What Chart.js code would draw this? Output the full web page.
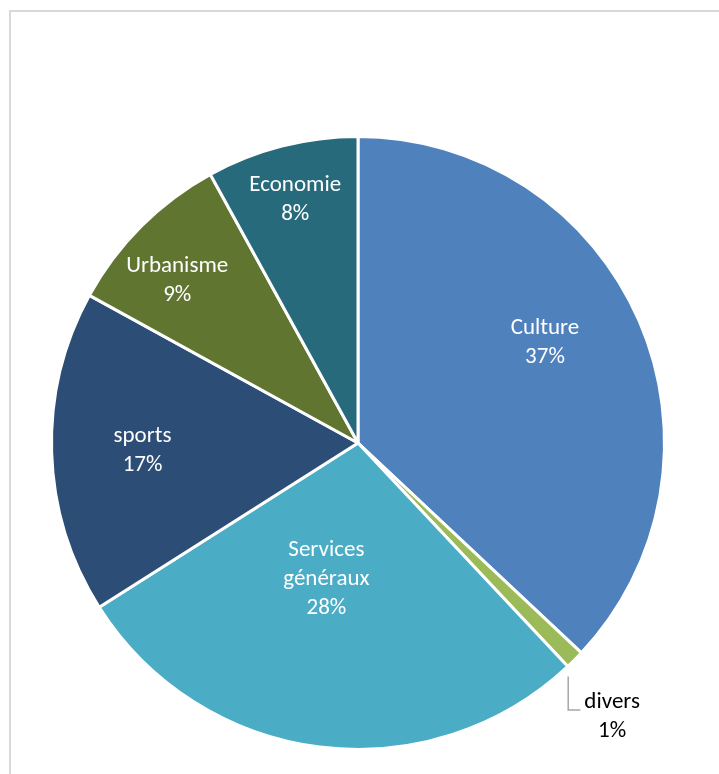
<!DOCTYPE html>
<html>
<head>
<meta charset="utf-8">
<script src="https://cdn.jsdelivr.net/npm/chart.js@4/dist/chart.umd.min.js"></script>
<style>
  html, body { margin: 0; padding: 0; background: #fff; overflow: hidden; }
  #frame { position: absolute; left: 9px; top: 10px; width: 900px; height: 900px; border-left: 2px solid #d9d9d9; border-top: 2px solid #d9d9d9; }
  #wrap { position: absolute; left: 0; top: 0; width: 719px; height: 774px; }
</style>
</head>
<body>
<div id="frame"></div>
<div id="wrap"><canvas id="chart" width="719" height="774"></canvas></div>
<script>
// Répartition par domaine (en %)
const categories = ['Culture', 'divers', 'Services généraux', 'sports', 'Urbanisme', 'Economie'];
const percentages = [37, 1, 28, 17, 9, 8];
const labelLines = [['Culture'], ['divers'], ['Services', 'généraux'], ['sports'], ['Urbanisme'], ['Economie']];

const sliceColors = ['#4F81BD', '#9BBB59', '#4BACC6', '#2C4D75', '#5F7530', '#276A7C'];

// Label placement per slice: radial fraction, angular shift (deg), text colour, outside with leader
const labelStyle = [
  { r: 0.69, shift: -5, color: '#ffffff' },
  { r: 1.21, shift: 2, color: '#000000', outside: true },
  { r: 0.45, shift: 6, color: '#ffffff' },
  { r: 0.70, shift: 0, color: '#ffffff' },
  { r: 0.79, shift: -3, color: '#ffffff' },
  { r: 0.82, shift: 0, color: '#ffffff' }
];

const FONT = '23px Carlito, Calibri, Lato, "Liberation Sans", sans-serif';
const LINE_H = 29;

const sliceLabels = {
  id: 'sliceLabels',
  afterDatasetsDraw(chart) {
    const ctx = chart.ctx;
    const meta = chart.getDatasetMeta(0);
    ctx.save();
    ctx.font = FONT;
    ctx.textAlign = 'center';
    ctx.textBaseline = 'middle';
    meta.data.forEach((arc, i) => {
      const st = labelStyle[i];
      const mid = (arc.startAngle + arc.endAngle) / 2 + st.shift * Math.PI / 180;
      const R = arc.outerRadius + 1.5;
      const cx = arc.x + Math.cos(mid) * R * st.r;
      const cy = arc.y + Math.sin(mid) * R * st.r + 1;
      const lines = labelLines[i].concat([percentages[i] + '%']);
      const top = cy - (lines.length - 1) * LINE_H / 2;
      ctx.fillStyle = st.color;
      lines.forEach((t, k) => ctx.fillText(t, cx, top + k * LINE_H));
      if (st.outside) {
        const a0 = (arc.startAngle + arc.endAngle) / 2 + 3 * Math.PI / 180;
        const sx = arc.x + Math.cos(a0) * R * 1.02;
        const sy = arc.y + Math.sin(a0) * R * 1.02;
        const w = ctx.measureText(lines[0]).width;
        const ex = cx - w / 2 - 4;
        const ey = top + 8;
        ctx.strokeStyle = '#a6a6a6';
        ctx.lineWidth = 1.5;
        ctx.beginPath();
        ctx.moveTo(sx, sy);
        ctx.lineTo(sx, ey);
        ctx.lineTo(ex, ey);
        ctx.stroke();
      }
    });
    ctx.restore();
  }
};

new Chart(document.getElementById('chart'), {
  type: 'pie',
  data: {
    labels: categories,
    datasets: [{
      data: percentages,
      backgroundColor: sliceColors,
      borderColor: '#ffffff',
      borderWidth: 3
    }]
  },
  options: {
    responsive: false,
    animation: false,
    layout: { padding: { left: 50, right: 53, top: 134, bottom: 22 } },
    plugins: {
      legend: { display: false },
      tooltip: { enabled: false }
    }
  },
  plugins: [sliceLabels]
});
</script>
</body>
</html>
